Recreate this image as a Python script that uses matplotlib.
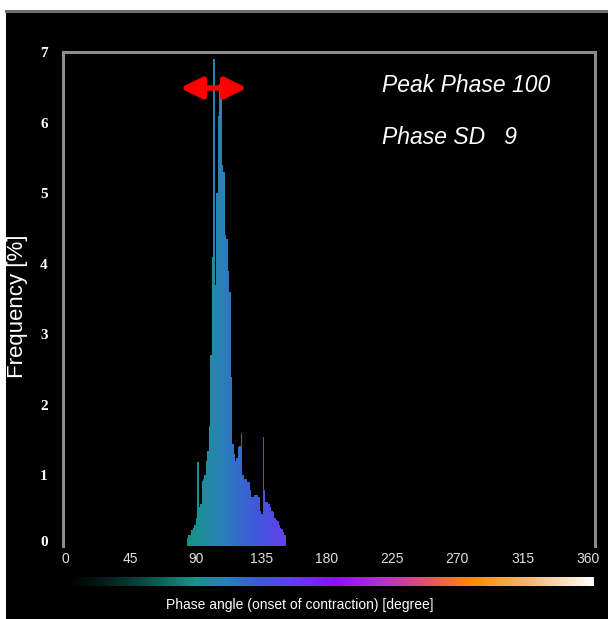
"""
Phase angle histogram (onset of contraction) on black background
"""

import numpy as np
import matplotlib.pyplot as plt
from matplotlib.colors import LinearSegmentedColormap, Normalize
from matplotlib.patches import Rectangle
from matplotlib.lines import Line2D
from matplotlib.transforms import ScaledTranslation

# Histogram data: 1-degree bins (left edges) and frequency in %
bin_left = list(range(84, 152))
freq_pct = [
    0.12, 0.16, 0.16, 0.22, 0.26, 0.30, 0.40, 1.19, 0.55, 0.60,   # 84-93
    0.92, 0.95, 1.00, 1.20, 1.35, 1.70, 2.70, 4.10, 6.90, 3.70,   # 94-103
    5.00, 6.10, 6.55, 6.50, 5.40, 5.30, 4.40, 4.35, 3.90, 3.60,   # 104-113
    2.40, 1.45, 1.30, 1.20, 1.25, 1.40, 1.42, 1.60, 1.00, 0.95,   # 114-123
    0.95, 0.90, 0.90, 0.80, 0.70, 0.70, 0.72, 0.72, 0.72, 0.70,   # 124-133
    0.50, 0.45, 1.55, 0.80, 0.62, 0.62, 0.60, 0.55, 0.50, 0.48,   # 134-143
    0.40, 0.37, 0.35, 0.30, 0.26, 0.24, 0.20, 0.15,               # 144-151
]

x_ticks = [0, 45, 90, 135, 180, 225, 270, 315, 360]
y_ticks = [0, 1, 2, 3, 4, 5, 6, 7]

peak_phase = 100
phase_sd = 9

# Phase colour map (black -> teal -> blue -> purple -> orange -> white)
phase_cmap = LinearSegmentedColormap.from_list('phase', [
    (0.00, '#000000'),
    (0.06, '#041816'),
    (0.15, '#0a4e46'),
    (0.24, '#17948a'),
    (0.30, '#2a80b8'),
    (0.36, '#3d5ad8'),
    (0.42, '#6040f0'),
    (0.51, '#8a10ff'),
    (0.59, '#b030d0'),
    (0.68, '#e05070'),
    (0.77, '#ff8c00'),
    (0.88, '#f5b878'),
    (1.00, '#ffffff'),
])
norm = Normalize(0, 360)

W, H = 608, 619
fig = plt.figure(figsize=(W / 100, H / 100), dpi=100, facecolor='white')

def fx(px):
    return px / W

def fy(py):
    return 1 - py / H

# black panel + grey top line (behind the axes)
fig.patches.append(Rectangle((fx(6), 0), 1, fy(11), transform=fig.transFigure,
                             facecolor='black', edgecolor='none', zorder=-10))
fig.lines.append(Line2D([fx(6), 1], [fy(11), fy(11)], transform=fig.transFigure,
                        color='#6e6e6e', lw=2.2, zorder=-5))

# main axes: 0 deg at px 65, 360 deg at px 588
px_per_deg = (588 - 65) / 360
ax = fig.add_axes([fx(63), fy(546), fx(595) - fx(63), fy(52) - fy(546)])
ax.set_facecolor('black')
ax.set_xlim(-2 / px_per_deg, 360 + 7 / px_per_deg)
ax.set_ylim(0, 7)

centers = np.array(bin_left) + 0.5
ax.bar(bin_left, freq_pct, width=1.0, align='edge',
       color=phase_cmap(norm(centers)), linewidth=0)

for side in ['top', 'left', 'right']:
    ax.spines[side].set_color('#8c8c8c')
    ax.spines[side].set_linewidth(2.2)
ax.spines['bottom'].set_visible(False)

ax.set_xticks(x_ticks)
ax.set_xticklabels([str(t) for t in x_ticks], fontsize=10, color='#e0e0e0',
                   family='Liberation Sans')
ax.set_yticks(y_ticks)
ax.set_yticklabels([str(t) for t in y_ticks], fontsize=11, color='white',
                   family='Liberation Serif', fontweight='bold')
ax.tick_params(axis='x', length=0, pad=4)
ax.tick_params(axis='y', length=0, pad=11)

# the "0" label sits a little above the baseline in the original
zero_lbl = ax.get_yticklabels()[0]
zero_lbl.set_transform(zero_lbl.get_transform() +
                       ScaledTranslation(0, 5 / 100, fig.dpi_scale_trans))

# red double arrow above the peak
ax.annotate('', xy=((247 - 65) / px_per_deg, 6.49), xytext=((180 - 65) / px_per_deg, 6.49),
            arrowprops=dict(arrowstyle='<|-|>,head_length=0.65,head_width=0.32',
                            mutation_scale=20, lw=4, color='#ff0000',
                            shrinkA=0, shrinkB=0))

fig.text(fx(382), fy(86), f'Peak Phase {peak_phase}', fontsize=16.5, style='italic',
         color='white', family='Liberation Sans', va='center', ha='left')
fig.text(fx(382), fy(137), f'Phase SD   {phase_sd}', fontsize=16.5, style='italic',
         color='white', family='Liberation Sans', va='center', ha='left')

fig.text(fx(18), fy(306), 'Frequency [%]', rotation=90, fontsize=16, color='white',
         family='Liberation Sans', va='center', ha='center')

# colour bar
cax = fig.add_axes([fx(68), fy(586), fx(594) - fx(68), fy(577) - fy(586)])
grad = np.linspace(0, 1, 512).reshape(1, -1)
cax.imshow(grad, aspect='auto', cmap=phase_cmap)
cax.set_axis_off()

fig.text(fx(300), fy(605), 'Phase angle (onset of contraction) [degree]', fontsize=10,
         color='white', family='Liberation Sans', va='center', ha='center')

fig.savefig('out.png', dpi=100, facecolor=fig.get_facecolor())
